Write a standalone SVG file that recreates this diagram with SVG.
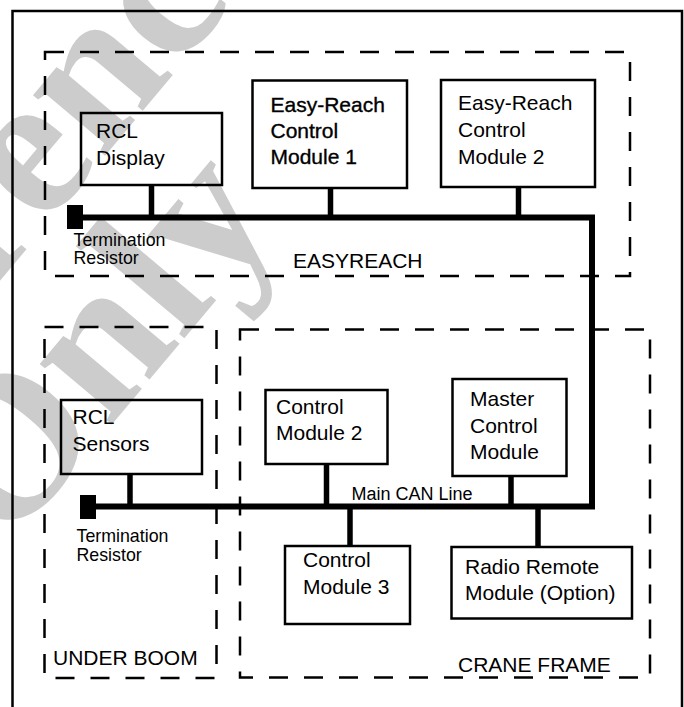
<svg xmlns="http://www.w3.org/2000/svg" width="684" height="707" viewBox="0 0 684 707">
<style>
.wm{font-family:"Liberation Serif","Times New Roman",serif;font-weight:bold;font-size:205px;fill:#cccccc}
.box{fill:none;stroke:#000;stroke-width:2.5}
.zone{fill:none;stroke:#000;stroke-width:2.5;stroke-dasharray:19 16}
.bus{fill:none;stroke:#000;stroke-width:6}
.drop{stroke:#000;stroke-width:5.5}
.t{font-family:"Liberation Sans",Arial,sans-serif;font-size:21px;fill:#000}
.b{stroke:#000;stroke-width:0.35}
.s{font-family:"Liberation Sans",Arial,sans-serif;font-size:17.8px;fill:#000}
.m{font-family:"Liberation Sans",Arial,sans-serif;font-size:18px;fill:#000}
.z{font-family:"Liberation Sans",Arial,sans-serif;font-size:21px;fill:#000}
</style>
<rect width="684" height="707" fill="#fff"/>
<g id="watermark" transform="translate(145,385) rotate(-50)">
<text class="wm" x="0" y="0" text-anchor="middle">Only</text>
<text class="wm" x="4" y="-178" text-anchor="middle">Reference</text>
</g>
<path d="M12.5,707 V11 H682 V707" fill="none" stroke="#000" stroke-width="2.5"/>
<g id="zones">
<g id="easyreach"><rect class="zone" x="45" y="52" width="585" height="224"/><text class="z" x="293" y="268">EASYREACH</text></g>
<g id="underboom"><rect class="zone" x="44.5" y="327" width="172" height="351"/><text class="z" x="53" y="665">UNDER BOOM</text></g>
<g id="craneframe"><rect class="zone" x="240" y="329.5" width="410" height="348"/><text class="z" x="458" y="671.5">CRANE FRAME</text></g>
</g>
<g id="connectors">
<path class="bus" d="M76,217.5 H592 V506.5 H90"/>
<line class="drop" x1="151.5" y1="186" x2="151.5" y2="217.5"/>
<line class="drop" x1="330.5" y1="188" x2="330.5" y2="217.5"/>
<line class="drop" x1="518.5" y1="187" x2="518.5" y2="217.5"/>
<line class="drop" x1="130" y1="474" x2="130" y2="506.5"/>
<line class="drop" x1="326.5" y1="464" x2="326.5" y2="506.5"/>
<line class="drop" x1="511" y1="476" x2="511" y2="506.5"/>
<line class="drop" x1="350" y1="506.5" x2="350" y2="546"/>
<line class="drop" x1="538" y1="506.5" x2="538" y2="547"/>
<text class="m" x="351.5" y="499.5">Main CAN Line</text>
</g>
<g id="term1"><rect x="67" y="205" width="16" height="24" fill="#000"/><text class="s" x="73.5" y="246">Termination</text><text class="s" x="73.5" y="264">Resistor</text></g>
<g id="term2"><rect x="80" y="495" width="16" height="24" fill="#000"/><text class="s" x="76.5" y="542">Termination</text><text class="s" x="76.5" y="561">Resistor</text></g>
<g id="rcl-display"><rect class="box" x="81" y="113" width="141" height="72"/><text class="t" x="96" y="138">RCL</text><text class="t" x="96" y="164.5">Display</text></g>
<g id="ercm1"><rect class="box" x="252.5" y="80.5" width="154.5" height="107.5"/><text class="t b" x="270.5" y="111.5">Easy-Reach</text><text class="t b" x="270.5" y="138">Control</text><text class="t b" x="270.5" y="164">Module 1</text></g>
<g id="ercm2"><rect class="box" x="441" y="80" width="154" height="107"/><text class="t" x="458" y="110">Easy-Reach</text><text class="t" x="458" y="137">Control</text><text class="t" x="458" y="163.5">Module 2</text></g>
<g id="rcl-sensors"><rect class="box" x="61" y="400" width="141" height="74"/><text class="t" x="72.5" y="424">RCL</text><text class="t" x="72.5" y="450.5">Sensors</text></g>
<g id="cm2"><rect class="box" x="265.5" y="390" width="122" height="74"/><text class="t" x="276" y="413.5">Control</text><text class="t" x="276" y="440">Module 2</text></g>
<g id="mcm"><rect class="box" x="452.5" y="379" width="114" height="97"/><text class="t" x="470" y="406">Master</text><text class="t" x="470" y="432.5">Control</text><text class="t" x="470" y="459">Module</text></g>
<g id="cm3"><rect class="box" x="285" y="546" width="125" height="78"/><text class="t" x="303" y="567">Control</text><text class="t" x="303" y="593.5">Module 3</text></g>
<g id="rrm"><rect class="box" x="451.5" y="547" width="180.5" height="71.5"/><text class="t" x="465" y="573.5">Radio Remote</text><text class="t" x="465" y="600">Module (Option)</text></g>
</svg>
